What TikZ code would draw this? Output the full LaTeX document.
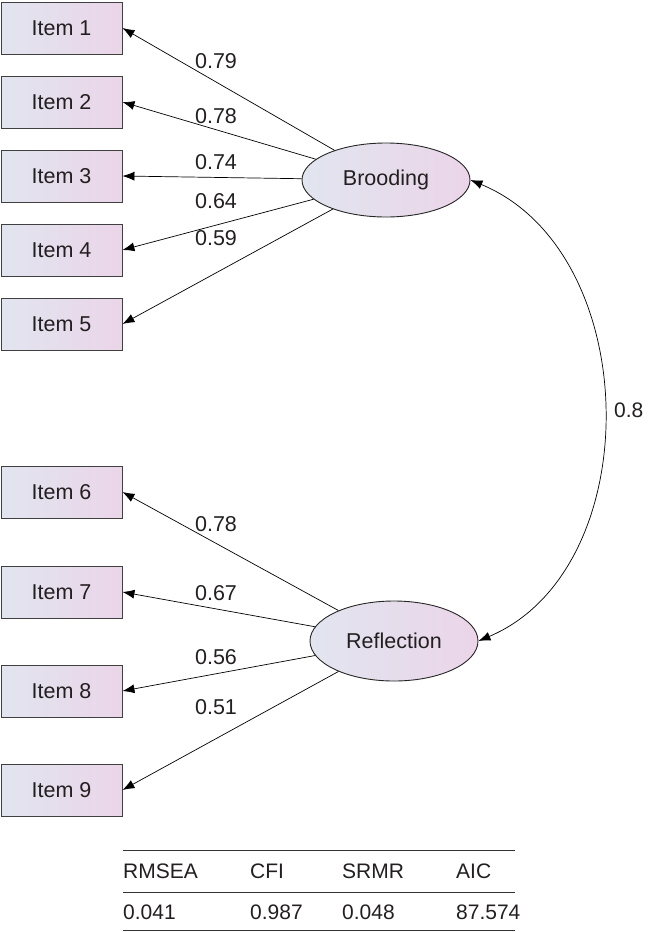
\documentclass[tikz,border=0pt]{standalone}
\usepackage{fontspec}
\setmainfont{Liberation Sans}
\usepackage{tikz}
\usetikzlibrary{arrows.meta}
\usetikzlibrary{shapes.geometric}
\usepackage{xcolor}

\definecolor{shadeleft}{RGB}{225,229,239}
\definecolor{shaderight}{RGB}{235,213,232}
\definecolor{inkgray}{RGB}{35,31,32}

\begin{document}
\begin{tikzpicture}[x = 1pt, y = -1pt,
    item/.style = {draw = black!75, line width = 0.9pt, left color = shadeleft, right color = shaderight,
                   minimum width = 121pt, minimum height = 52pt, inner sep = 0pt, text = inkgray,
                   font = \fontsize{21.5}{24}\selectfont},
    factor/.style = {ellipse, draw = black!85, line width = 0.9pt, left color = shadeleft, right color = shaderight,
                     minimum width = 168pt, inner sep = 0pt, text = inkgray, font = \fontsize{21.5}{24}\selectfont},
    load/.style = {-{Latex[length = 12pt, width = 9pt]}, line width = 0.7pt},
    coef/.style = {text = inkgray, font = \fontsize{21.5}{24}\selectfont},
    fitcell/.style = {anchor = west, inner sep = 0pt, text = inkgray, font = \fontsize{21}{24}\selectfont},
    rule/.style = {line width = 0.9pt, draw = black!80}]

    \useasboundingbox (0,0) rectangle (648,932);

    % observed items
    \foreach \i/\y in {1/28, 2/102, 3/176, 4/250, 5/324, 6/492, 7/592, 8/691, 9/790}
    \node[item] (i\i) at (61.5,\y) {Item \i};

    % latent factors
    \node[factor, minimum height = 74pt] (brood) at (386,180) {Brooding};
    \node[factor, minimum height = 80pt] (refl) at (394,641) {Reflection};

    \foreach \i in {1,...,5}
    \draw[load] (brood) -- (i\i.east);
    \foreach \i in {6,...,9}
    \draw[load] (refl) -- (i\i.east);

    \foreach \v/\y [count = \n] in {0.79/61, 0.78/116, 0.74/162, 0.64/201, 0.59/238,
                                    0.78/524, 0.67/593, 0.56/657, 0.51/707}
    \node[coef] (c\n) at (216,\y) {\v};

    % covariance
    \draw[{Latex[length = 12pt, width = 9pt]}-{Latex[length = 12pt, width = 9pt]}, line width = 0.7pt]
      (brood.east) .. controls +(174,72) and +(170,-72) .. (refl.east)
      node[pos = 0.5, anchor = west, coef, font = \fontsize{21}{24}\selectfont, xshift = 7pt] (cov) {0.8};

    % fit indices
    \draw[rule] (123,850) -- (515,850);
    \draw[rule] (123,892) -- (515,892);
    \draw[rule] (123,930) -- (515,930);

    \foreach \h/\v/\x [count = \n] in {RMSEA/0.041/123, CFI/0.987/250, SRMR/0.048/342, AIC/87.574/456}
    {
    \node[fitcell] (h\n) at (\x,871) {\h};
    \node[fitcell] (v\n) at (\x,912) {\v};
    }

\end{tikzpicture}
\end{document}
